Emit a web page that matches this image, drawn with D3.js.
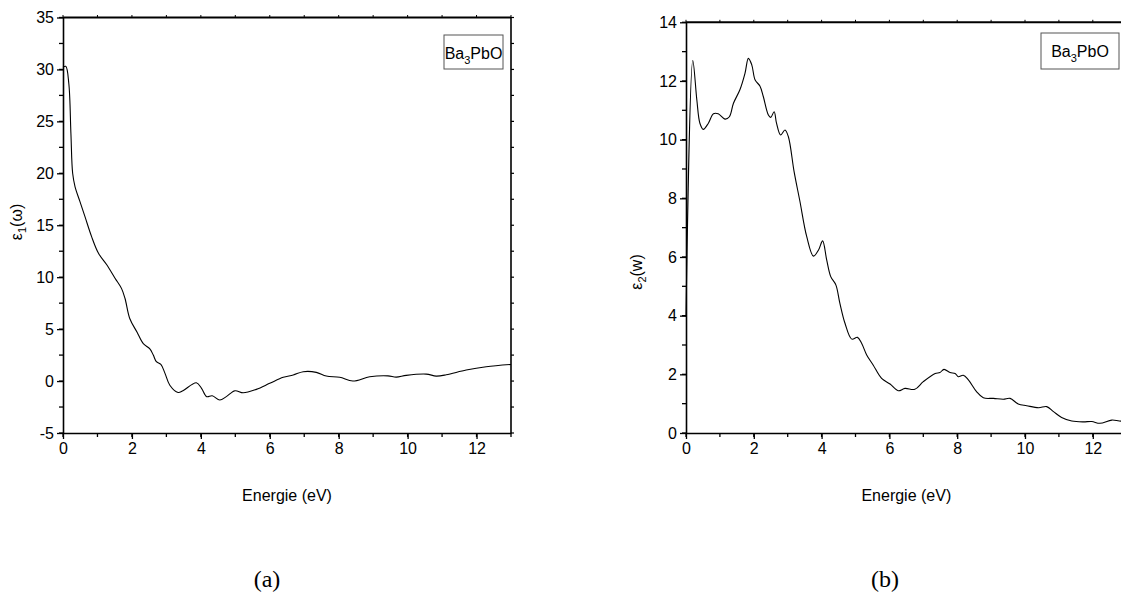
<!DOCTYPE html>
<html>
<head>
<meta charset="utf-8">
<script src="https://cdn.jsdelivr.net/npm/d3@7"></script>
<style>
  body { margin: 0; background: #fff; }
  svg text { font-family: "Liberation Sans", Arial, sans-serif; fill: #000; }
</style>
</head>
<body>
<script>
// energy grid / values
var eps1_E = [0, 0.08, 0.17, 0.23, 0.28, 0.35, 0.49, 0.64, 0.83, 1.03, 1.27, 1.51, 1.70, 1.80, 1.94, 2.15, 2.33, 2.52, 2.62, 2.71, 2.84, 2.96, 3.10, 3.34, 3.48, 3.87, 4.02, 4.17, 4.33, 4.55, 4.74, 4.99, 5.23, 5.61, 6.00, 6.39, 6.68, 6.97, 7.35, 7.64, 8.03, 8.41, 8.90, 9.43, 9.67, 9.96, 10.54, 10.83, 11.12, 11.70, 12.28, 13.0];
var eps1_V = [30.2, 30.3, 28.6, 23.8, 20.0, 18.7, 17.3, 15.8, 13.9, 12.3, 11.2, 9.9, 8.9, 7.95, 6.0, 4.7, 3.6, 3.1, 2.5, 1.86, 1.6, 0.74, -0.4, -1.1, -0.93, -0.16, -0.7, -1.5, -1.41, -1.83, -1.5, -0.93, -1.13, -0.8, -0.22, 0.36, 0.58, 0.9, 0.84, 0.48, 0.36, 0.0, 0.41, 0.5, 0.38, 0.55, 0.67, 0.48, 0.6, 1.06, 1.38, 1.6];

var eps2_E = [0, 0.2, 0.32, 0.41, 0.51, 0.66, 0.81, 0.95, 1.15, 1.28, 1.40, 1.59, 1.74, 1.84, 1.94, 2.04, 2.18, 2.28, 2.43, 2.50, 2.60, 2.67, 2.79, 2.92, 3.02, 3.19, 3.36, 3.56, 3.76, 3.91, 4.03, 4.15, 4.27, 4.42, 4.54, 4.69, 4.89, 5.06, 5.18, 5.33, 5.52, 5.77, 6.02, 6.26, 6.46, 6.75, 7.0, 7.35, 7.49, 7.61, 7.79, 7.94, 8.03, 8.18, 8.33, 8.57, 8.77, 9.07, 9.36, 9.56, 9.80, 10.05, 10.40, 10.64, 10.84, 11.08, 11.38, 11.72, 11.97, 12.21, 12.56, 12.78, 13.0];
var eps2_V = [3.96, 12.7, 11.35, 10.56, 10.35, 10.56, 10.88, 10.88, 10.7, 10.78, 11.24, 11.7, 12.26, 12.77, 12.55, 12.03, 11.83, 11.47, 10.84, 10.76, 10.95, 10.56, 10.16, 10.33, 10.1, 8.9, 7.9, 6.7, 6.03, 6.24, 6.55, 5.9, 5.33, 5.05, 4.42, 3.74, 3.2, 3.26, 3.06, 2.66, 2.32, 1.86, 1.67, 1.44, 1.52, 1.49, 1.75, 2.03, 2.06, 2.17, 2.06, 2.03, 1.92, 1.97, 1.81, 1.41, 1.2, 1.18, 1.15, 1.18, 0.99, 0.93, 0.86, 0.9, 0.73, 0.53, 0.41, 0.38, 0.39, 0.33, 0.44, 0.41, 0.4];

var x_ticks = [0, 2, 4, 6, 8, 10, 12];
var y1_ticks = [-5, 0, 5, 10, 15, 20, 25, 30, 35];
var y2_ticks = [0, 2, 4, 6, 8, 10, 12, 14];

var svg = d3.select("body").append("svg")
    .attr("width", 1121)
    .attr("height", 596);

function draw_panel(opt) {
    var x = d3.scaleLinear().domain(opt.xdom).range([opt.left, opt.right]);
    var y = d3.scaleLinear().domain(opt.ydom).range([opt.bottom, opt.top]);
    var g = svg.append("g");
    var fmt = d => String(d);

    var minorX = d3.range(opt.xdom[0], opt.xdom[1] + 0.001, 1);
    var minorY = d3.range(opt.ydom[0], opt.ydom[1] + 0.001, opt.yminor);

    // bottom axis
    var bx = g.append("g").attr("transform", "translate(0," + opt.bottom + ")");
    bx.call(d3.axisBottom(x).tickValues(opt.xticks).tickFormat(fmt).tickSize(6).tickSizeOuter(0).tickPadding(4));
    bx.selectAll("g.minor").data(minorX).enter().append("line")
        .attr("x1", d => x(d)).attr("x2", d => x(d))
        .attr("y1", 0).attr("y2", 4)
        .attr("stroke", "#000").attr("stroke-width", 1.3);

    // left axis
    var ly = g.append("g").attr("transform", "translate(" + opt.left + ",0)");
    ly.call(d3.axisLeft(y).tickValues(opt.yticks).tickFormat(fmt).tickSize(6).tickSizeOuter(0).tickPadding(3));
    ly.selectAll("g.minor").data(minorY).enter().append("line")
        .attr("x1", 0).attr("x2", -4)
        .attr("y1", d => y(d)).attr("y2", d => y(d))
        .attr("stroke", "#000").attr("stroke-width", 1.3);

    [bx, ly].forEach(function(a) {
        a.select(".domain").attr("stroke-width", 1.6);
        a.selectAll(".tick line").attr("stroke-width", 1.3);
        a.selectAll(".tick text").style("font-size", "16px");
    });

    // top axis (tiny ticks)
    var tx = g.append("g").attr("transform", "translate(0," + opt.top + ")");
    tx.append("line").attr("x1", opt.left).attr("x2", x(opt.xdom[1]))
        .attr("stroke", "#000").attr("stroke-width", 2);
    tx.selectAll("line.t").data(minorX).enter().append("line")
        .attr("x1", d => x(d)).attr("x2", d => x(d))
        .attr("y1", 0).attr("y2", -2.5)
        .attr("stroke", "#000").attr("stroke-width", 1);

    // right axis
    if (opt.rightAxis) {
        var ry = g.append("g").attr("transform", "translate(" + opt.right + ",0)");
        ry.append("line").attr("y1", opt.top).attr("y2", opt.bottom)
            .attr("stroke", "#000").attr("stroke-width", 1.6);
        ry.selectAll("line.t").data(minorY).enter().append("line")
            .attr("x1", 0).attr("x2", 3)
            .attr("y1", d => y(d)).attr("y2", d => y(d))
            .attr("stroke", "#000").attr("stroke-width", 1.2);
    }

    // curve
    var pts = opt.E.map((e, i) => [e, opt.V[i]]);
    g.append("path").datum(pts)
        .attr("fill", "none").attr("stroke", "#000").attr("stroke-width", 1.1)
        .attr("d", d3.line().x(d => x(d[0])).y(d => y(d[1])).curve(d3.curveCatmullRom.alpha(0.5)));

    // axis titles
    g.append("text").attr("x", (opt.left + opt.right) / 2).attr("y", opt.bottom + 68)
        .attr("text-anchor", "middle").style("font-size", "16px").text("Energie (eV)");
    var yl = g.append("text")
        .attr("transform", "translate(" + opt.ylabX + "," + opt.ylabY + ") rotate(-90)")
        .attr("text-anchor", "middle").style("font-size", "16px");
    yl.append("tspan").text("ε");
    yl.append("tspan").attr("dy", 4).style("font-size", "11px").text(opt.sub);
    yl.append("tspan").attr("dy", -4).text(opt.ylabRest);

    // legend box
    var lg = g.append("g");
    lg.append("rect").attr("x", opt.leg[0]).attr("y", opt.leg[1])
        .attr("width", opt.leg[2]).attr("height", opt.leg[3])
        .attr("fill", "#fff").attr("stroke", "#555").attr("stroke-width", 1);
    var lt = lg.append("text").attr("x", opt.leg[0] + opt.leg[2] / 2).attr("y", opt.leg[1] + 24)
        .attr("text-anchor", "middle").style("font-size", "16px");
    lt.append("tspan").text("Ba");
    lt.append("tspan").attr("dy", 5).style("font-size", "11px").text("3");
    lt.append("tspan").attr("dy", -5).text("PbO");

    // panel caption
    g.append("text").attr("x", opt.capX).attr("y", 587)
        .attr("text-anchor", "middle")
        .style("font-family", "'Liberation Serif', 'Times New Roman', serif")
        .style("font-size", "24px").text(opt.cap);
}

draw_panel({
    E: eps1_E, V: eps1_V,
    xdom: [0, 13], ydom: [-5, 35], yminor: 2.5,
    xticks: x_ticks, yticks: y1_ticks,
    left: 63, right: 511, top: 17.5, bottom: 433,
    rightAxis: true,
    sub: "1", ylabRest: "(ω)", ylabX: 22, ylabY: 222,
    leg: [444, 35, 59, 34],
    cap: "(a)", capX: 267
});

draw_panel({
    E: eps2_E, V: eps2_V,
    xdom: [0, 13], ydom: [0, 14], yminor: 1,
    xticks: x_ticks, yticks: y2_ticks,
    left: 686, right: 686 + 13 * 33.9, top: 22.3, bottom: 433,
    rightAxis: false,
    sub: "2", ylabRest: "(w)", ylabX: 642, ylabY: 272,
    leg: [1041, 33, 78, 36],
    cap: "(b)", capX: 885
});
</script>
</body>
</html>
